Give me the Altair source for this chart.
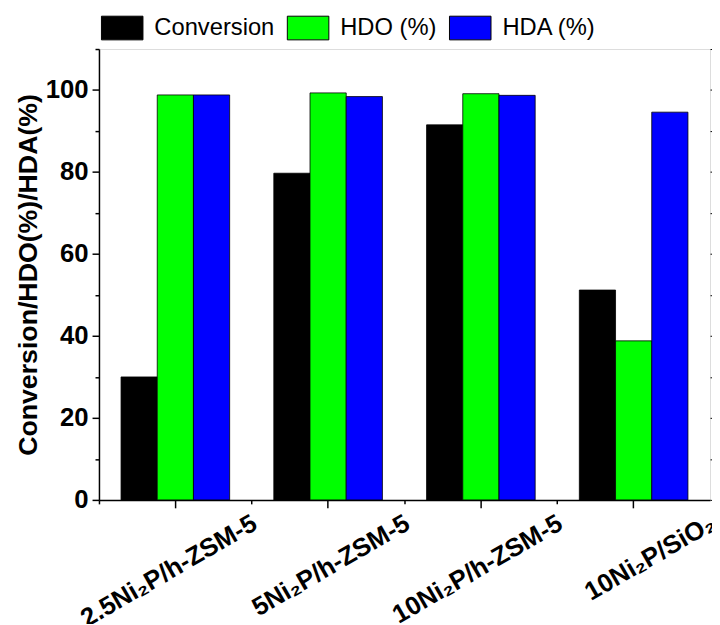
import altair as alt
import pandas as pd

categories = ["2.5Ni₂P/h-ZSM-5", "5Ni₂P/h-ZSM-5", "10Ni₂P/h-ZSM-5", "10Ni₂P/SiO₂"]
series = ["Conversion", "HDO (%)", "HDA (%)"]
conversion = [30.0, 79.7, 91.5, 51.2]
hdo = [98.8, 99.3, 99.1, 38.8]
hda = [98.8, 98.4, 98.7, 94.6]
colors = ["#000000", "#00ff00", "#0000ff"]
y_major = [0, 20, 40, 60, 80, 100]
y_minor = [10, 30, 50, 70, 90, 110]
y_mirror = [0, 10, 20, 30, 40, 50, 60, 70, 80, 90, 100, 110]

rows = []
for s, vals in zip(series, [conversion, hdo, hda]):
    for c, v in zip(categories, vals):
        rows.append({"cat": c, "series": s, "value": v})
df = pd.DataFrame(rows)

FONT = "Liberation Sans"
xscale = alt.Scale(domain=categories, paddingInner=0.289, paddingOuter=0.1445)
yscale = alt.Scale(domain=[0, 110], nice=False)
offscale = alt.Scale(domain=series, paddingInner=0, paddingOuter=0)

main = alt.Chart(df).mark_bar(stroke="#000000", strokeWidth=0.8).encode(
    x=alt.X("cat:N", scale=xscale, sort=categories, title=None,
            axis=alt.Axis(orient="bottom", labelAngle=-30, labelAlign="right",
                          labelBaseline="top", labelOffset=74, labelPadding=2,
                          tickSize=8, tickWidth=1.5, tickColor="#000",
                          domainColor="#000", domainWidth=1.5,
                          labelFont=FONT, labelFontSize=26, labelFontWeight="bold",
                          labelColor="#000", labelOverlap=False, labelLimit=0,
                          labelBound=False, labelFlush=False)),
    xOffset=alt.XOffset("series:N", sort=series, scale=offscale),
    y=alt.Y("value:Q", scale=yscale, stack=None,
            title="Conversion/HDO(%)/HDA(%)",
            axis=alt.Axis(orient="left", values=y_major, tickSize=7, tickWidth=1.5,
                          tickColor="#000", domainColor="#000", domainWidth=1.5,
                          labelFont=FONT, labelFontSize=26, labelFontWeight="bold",
                          labelColor="#000", labelPadding=4, grid=False,
                          titleFont=FONT, titleFontSize=27, titleFontWeight="bold",
                          titleColor="#000", titlePadding=3)),
    color=alt.Color("series:N", sort=series,
                    scale=alt.Scale(domain=series, range=colors),
                    legend=alt.Legend(title=None, orient="none", legendX=2, legendY=-43,
                                      direction="horizontal", padding=0,
                                      symbolType="M-1,-0.57L1,-0.57L1,0.57L-1,0.57Z",
                                      symbolSize=1764, symbolStrokeColor="#000",
                                      symbolStrokeWidth=1, symbolOpacity=1,
                                      labelFont=FONT, labelFontSize=24,
                                      labelColor="#000", labelOffset=11,
                                      columnPadding=10, labelLimit=0)),
)

minor = alt.Chart(df).mark_bar(opacity=0).encode(
    x=alt.X("cat:N", scale=xscale, sort=categories, title=None,
            axis=alt.Axis(orient="bottom", bandPosition=-0.2, labels=False,
                          tickSize=4, tickWidth=1.5, tickColor="#000",
                          domain=False, grid=False)),
    xOffset=alt.XOffset("series:N", sort=series, scale=offscale),
    y=alt.Y("value:Q", scale=yscale, stack=None, title=None,
            axis=alt.Axis(orient="left", values=y_minor, labels=False, tickSize=4,
                          tickWidth=1.5, tickColor="#000", domain=False, grid=False)),
)

mirror = alt.Chart(df).mark_bar(opacity=0).encode(
    x=alt.X("cat:N", scale=xscale, sort=categories, axis=None),
    xOffset=alt.XOffset("series:N", sort=series, scale=offscale),
    y=alt.Y("value:Q", scale=yscale, stack=None, title=None,
            axis=alt.Axis(orient="right", values=y_mirror, labels=False, tickSize=3,
                          tickWidth=1, tickColor="#000", domain=False, grid=False)),
)

chart = alt.layer(main, minor, mirror).resolve_axis(
    x="independent", y="independent"
).properties(
    width=618, height=456,
    autosize=alt.AutoSizeParams(type="none"),
    padding={"left": 92, "top": 38, "right": 2, "bottom": 122},
).configure_view(stroke="#000", strokeWidth=1.5).configure(background="#ffffff")

chart.save("out.html", embed_options={"renderer": "svg", "actions": False})
